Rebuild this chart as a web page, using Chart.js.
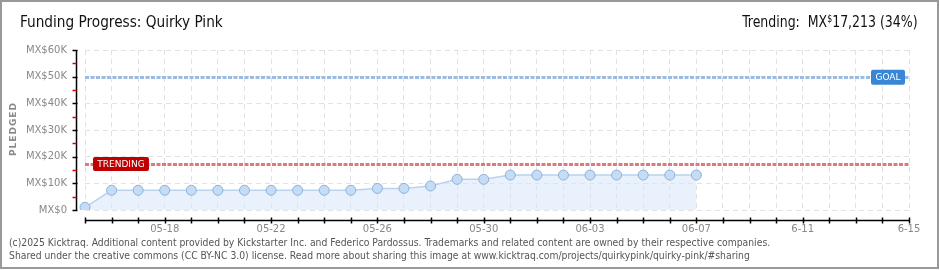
<!DOCTYPE html>
<html>
<head>
<meta charset="utf-8">
<script src="https://cdn.jsdelivr.net/npm/chart.js@4.4.1/dist/chart.umd.min.js"></script>
<style>
  html, body { margin: 0; padding: 0; background: #fff; }
  #wrap { position: relative; width: 940px; height: 270px; overflow: hidden; }
  #frame { position: absolute; left: 0; top: 0; width: 935px; height: 265px; border: 2px solid #999; pointer-events: none; }
  #title { position: absolute; left: 20px; top: 12px; font: 16px "Liberation Sans Narrow", "DejaVu Sans Condensed", sans-serif; color: #111; transform: scaleX(0.95); transform-origin: left; }
  #trend { position: absolute; right: 22px; top: 12px; font: 16px "Liberation Sans Narrow", "DejaVu Sans Condensed", sans-serif; color: #111; transform: scaleX(0.87); transform-origin: right; }
  #trend sup { font-size: 10px; vertical-align: 5px; }
  #foot { position: absolute; left: 9px; top: 236px; font: 11px/13px "Liberation Sans Narrow", "DejaVu Sans Condensed", sans-serif; color: #555; transform: scaleX(0.935); transform-origin: left; white-space: nowrap; }
  #pledged { position: absolute; left: 13px; top: 129px; transform: translate(-50%, -50%) rotate(-90deg); font: bold 9px "DejaVu Sans", sans-serif; letter-spacing: 1px; color: #888; }
  canvas { position: absolute; left: 0; top: 0; }
</style>
</head>
<body>
<div id="wrap">
  <canvas id="fundingChart" width="940" height="270"></canvas>
  <div id="title">Funding Progress: Quirky Pink</div>
  <div id="trend">Trending:&nbsp; MX<sup>$</sup>17,213 (34%)</div>
  <div id="pledged">PLEDGED</div>
  <div id="foot">(c)2025 Kicktraq. Additional content provided by Kickstarter Inc. and Federico Pardossus. Trademarks and related content are owned by their respective companies.<br>Shared under the creative commons (CC BY-NC 3.0) license. Read more about sharing this image at www.kicktraq.com/projects/quirkypink/quirky-pink/#sharing</div>
  <div id="frame"></div>
</div>
<script>
// days on the x axis (05-15 .. 06-15)
const days = ['05-15','05-16','05-17','05-18','05-19','05-20','05-21','05-22','05-23','05-24',
              '05-25','05-26','05-27','05-28','05-29','05-30','05-31','06-01','06-02','06-03',
              '06-04','06-05','06-06','06-07','06-08','06-09','06-10','06-11','06-12','06-13',
              '06-14','06-15'];
// pledged amount per day (MX$)
const pledged = [1000, 7400, 7400, 7400, 7400, 7400, 7400, 7400, 7400, 7400,
                 7400, 8100, 8100, 9000, 11500, 11500, 13100, 13100, 13100, 13100,
                 13100, 13100, 13100, 13100];
// x tick labels shown every 4 days
const xTickLabels = {3: '05-18', 7: '05-22', 11: '05-26', 15: '05-30', 19: '06-03', 23: '06-07', 27: '6-11', 31: '6-15'};
const yTicks = [0, 10000, 20000, 30000, 40000, 50000, 60000];
const goal = 50000;
const trending = 17213;

const gridColor = '#e2e2e2';

// axes drawn offset from the plot, plus goal / trending lines
const kicktraqPlugin = {
    id: 'kicktraq',
    beforeDatasetsDraw(chart) {
        const c = chart.ctx, x = chart.scales.x, y = chart.scales.y;
        const x0 = x.getPixelForValue(0), x1 = x.getPixelForValue(days.length - 1);
        c.save();
        c.lineWidth = 3;
        c.setLineDash([4, 1.5]);
        c.strokeStyle = '#9dbbe2';
        let gy = Math.round(y.getPixelForValue(goal)) + 0.5;
        c.beginPath(); c.moveTo(x0, gy); c.lineTo(x1, gy); c.stroke();
        c.strokeStyle = '#db7a7a';
        let ty = Math.round(y.getPixelForValue(trending)) + 0.5;
        c.beginPath(); c.moveTo(x0, ty); c.lineTo(x1, ty); c.stroke();
        c.restore();
    },
    afterDatasetsDraw(chart) {
        const c = chart.ctx, x = chart.scales.x, y = chart.scales.y;
        const area = chart.chartArea;
        c.save();
        // y axis
        const ax = area.left - 8.5;
        c.strokeStyle = '#000';
        c.lineWidth = 1.5;
        c.beginPath(); c.moveTo(ax, y.getPixelForValue(60000)); c.lineTo(ax, y.getPixelForValue(0)); c.stroke();
        yTicks.forEach(v => {
            const py = Math.round(y.getPixelForValue(v)) + 0.5;
            c.strokeStyle = '#000';
            c.beginPath(); c.moveTo(ax - 4, py); c.lineTo(ax + 1, py); c.stroke();
            if (v < 60000) {
                const my = Math.round(y.getPixelForValue(v + 5000)) + 0.5;
                c.strokeStyle = '#e00000';
                c.beginPath(); c.moveTo(ax - 4, my); c.lineTo(ax, my); c.stroke();
            }
        });
        // x axis
        const ay = area.bottom + 10.5;
        c.strokeStyle = '#000';
        c.beginPath(); c.moveTo(x.getPixelForValue(0), ay); c.lineTo(x.getPixelForValue(days.length - 1), ay); c.stroke();
        days.forEach((d, i) => {
            const px = Math.round(x.getPixelForValue(i)) + 0.5;
            c.beginPath(); c.moveTo(px, ay - 3); c.lineTo(px, ay + 3); c.stroke();
        });
        // labels on the lines
        c.font = '9px "DejaVu Sans", sans-serif';
        c.textBaseline = 'middle';
        c.textAlign = 'center';
        const ty = y.getPixelForValue(trending);
        c.fillStyle = '#c00000';
        c.beginPath(); c.roundRect(93, ty - 7, 56, 14, 2); c.fill();
        c.fillStyle = '#fff';
        c.fillText('TRENDING', 121, ty + 0.5);
        const gy = y.getPixelForValue(goal);
        c.fillStyle = '#3a86d6';
        c.beginPath(); c.roundRect(871, gy - 7, 34, 15, 2); c.fill();
        c.fillStyle = '#fff';
        c.fillText('GOAL', 888, gy + 0.5);
        c.restore();
    }
};

new Chart(document.getElementById('fundingChart').getContext('2d'), {
    type: 'line',
    data: {
        labels: days,
        datasets: [{
            data: pledged,
            borderColor: '#b9d3ef',
            borderWidth: 1.5,
            backgroundColor: 'rgba(214, 230, 249, 0.55)',
            fill: 'origin',
            tension: 0,
            pointRadius: 5,
            pointBackgroundColor: '#c5dcf6',
            pointBorderColor: '#8fb0d8',
            pointBorderWidth: 1,
        }]
    },
    options: {
        responsive: false,
        animation: false,
        events: [],
        layout: {
            padding: { left: 0, top: 50, right: 31, bottom: 30 }
        },
        plugins: {
            legend: { display: false },
            tooltip: { enabled: false }
        },
        scales: {
            x: {
                offset: false,
                grid: { color: gridColor, drawTicks: false },
                border: { display: false, dash: [5, 4] },
                ticks: {
                    autoSkip: false,
                    maxRotation: 0,
                    padding: 13,
                    color: '#888',
                    font: { family: 'DejaVu Sans', size: 10 },
                    callback: (v, i) => xTickLabels[i] || ''
                },
                afterFit: s => { s.height = 30; }
            },
            y: {
                min: 0,
                max: 60000,
                grid: { color: gridColor, drawTicks: false },
                border: { display: false, dash: [5, 4] },
                afterBuildTicks: s => { s.ticks = yTicks.map(v => ({ value: v })); },
                ticks: {
                    padding: 18,
                    color: '#888',
                    font: { family: 'DejaVu Sans', size: 10 },
                    callback: v => v === 0 ? 'MX$0' : 'MX$' + (v / 1000) + 'K'
                },
                afterFit: s => { s.width = 85; }
            }
        }
    },
    plugins: [kicktraqPlugin]
});
</script>
</body>
</html>
